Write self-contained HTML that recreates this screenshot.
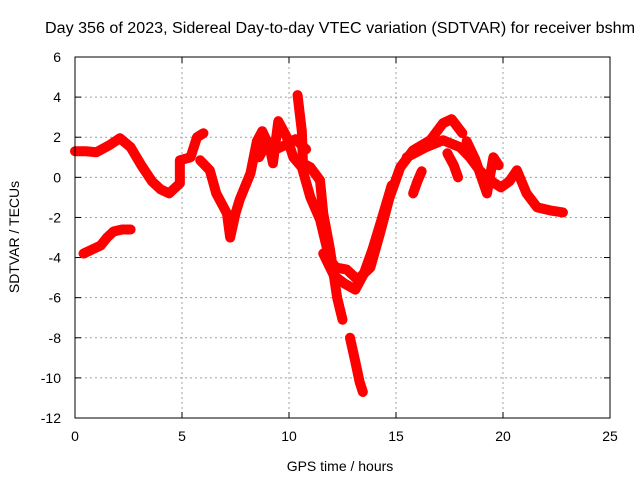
<!DOCTYPE html>
<html><head><meta charset="utf-8"><style>
body{margin:0;background:#fff}
svg{display:block;font-family:"Liberation Sans",sans-serif;font-size:14px}
</style></head><body>
<svg id="chart" width="640" height="480">
<text x="340" y="33" text-anchor="middle" textLength="590" lengthAdjust="spacingAndGlyphs" style="font-size:15.5px">Day 356 of 2023, Sidereal Day-to-day VTEC variation (SDTVAR) for receiver bshm</text>
<text x="340" y="471" text-anchor="middle">GPS time / hours</text>
<text transform="translate(19,237) rotate(-90)" text-anchor="middle">SDTVAR / TECUs</text>
<g id="grid"></g><g id="data"></g><g id="axes"></g>
</svg>
<script>
const xTicks=[0,5,10,15,20,25];
const yTicks=[6,4,2,0,-2,-4,-6,-8,-10,-12];
const mainHours=[0,0.5,1,1.6,2.1,2.6,3.1,3.6,4.0,4.4,4.9,4.9,5.4,5.7,6.0];
const mainValues=[1.3,1.3,1.25,1.6,1.95,1.5,0.6,-0.2,-0.6,-0.8,-0.3,0.85,1.0,2.0,2.2];
const dipHours=[5.85,6.3,6.6,7.1,7.25,7.5,7.7,8.2,8.5,8.75,9.1,9.25,9.5,9.9,10.2,10.6,11.0,11.45,11.9,12.2,12.7,13.2,13.8,14.25,14.7,15.2,15.8,16.6,17.2,17.6,18.1];
const dipValues=[0.85,0.35,-0.8,-1.8,-3.0,-1.8,-1.1,0.2,1.8,2.3,1.5,0.7,2.8,2.0,1.0,0.5,-1.0,-2.1,-4.1,-4.5,-4.6,-5.1,-4.5,-2.8,-1.0,0.5,1.35,1.85,2.7,2.9,2.2];
const lowHours=[15.5,16.4,17.2,18.0,18.45,18.9,19.4,19.9,20.3,20.65,21.1,21.6,22.2,22.8];
const lowValues=[1.0,1.5,1.85,1.5,1.0,0.35,-0.15,-0.5,-0.2,0.35,-0.8,-1.5,-1.65,-1.75];
const branchHours=[10.4,10.6,10.65,11.0,11.45,11.6,11.9,12.25,12.5];
const branchValues=[4.1,2.3,0.7,0.5,-0.15,-1.8,-3.5,-6.0,-7.1];
const fallHours=[12.85,13.1,13.3,13.45];
const fallValues=[-8.0,-9.2,-10.2,-10.7];
const sideHours=[17.4,17.7,17.9];
const sideValues=[1.2,0.6,0.0];
const riseHours=[15.8,16.0,16.2];
const riseValues=[-0.8,-0.2,0.3];
const midHours=[18.3,18.7,19.25,19.55,19.8];
const midValues=[1.8,0.9,-0.8,1.0,0.6];
const preHours=[0.4,0.8,1.2,1.5,1.8,2.2,2.6];
const preValues=[-3.8,-3.6,-3.4,-3.0,-2.7,-2.6,-2.6];
const troughHours=[11.6,12.1,12.6,13.1,13.5,13.9,14.3,14.8];
const troughValues=[-3.8,-4.9,-5.3,-5.6,-4.8,-3.6,-2.2,-0.4];
const humpHours=[8.6,9.0,9.4,9.8,10.3,10.8];
const humpValues=[1.0,1.8,1.4,1.6,1.9,1.4];
const tracks=[[mainHours,mainValues],[dipHours,dipValues],[lowHours,lowValues],[branchHours,branchValues],[fallHours,fallValues],[sideHours,sideValues],[riseHours,riseValues],[midHours,midValues],[preHours,preValues],[troughHours,troughValues],[humpHours,humpValues]];

const L=75,R=610,T=57,B=418,NS="http://www.w3.org/2000/svg";
const X=h=>L+(h-0)/25*(R-L);
const Y=v=>T+(6-v)/18*(B-T);
function mk(t,a,p){const e=document.createElementNS(NS,t);for(const k in a)e.setAttribute(k,a[k]);p.appendChild(e);return e;}
const grid=document.getElementById('grid'),axes=document.getElementById('axes'),data=document.getElementById('data');
xTicks.forEach(t=>{
 const x=X(t);
 if(t>0&&t<25){const g=mk('line',{x1:x,x2:x,y1:T,y2:B,stroke:'#a0a0a0','stroke-dasharray':'2,3'},grid);
 
 }
 mk('line',{x1:x,x2:x,y1:B,y2:B-6,stroke:'#000'},axes);mk('line',{x1:x,x2:x,y1:T,y2:T+6,stroke:'#000'},axes);
 const tx=mk('text',{x:x,y:B+23,'text-anchor':'middle'},axes);tx.textContent=t;
 
 
});
yTicks.forEach(t=>{
 const y=Y(t);
 if(t<6&&t>-12){const g=mk('line',{x1:L,x2:R,y1:y,y2:y,stroke:'#a0a0a0','stroke-dasharray':'2,3'},grid);
 
 }
 mk('line',{x1:L,x2:L+6,y1:y,y2:y,stroke:'#000'},axes);mk('line',{x1:R,x2:R-6,y1:y,y2:y,stroke:'#000'},axes);
 const tx=mk('text',{x:L-14,y:y+5,'text-anchor':'end'},axes);tx.textContent=t;
 
 
});
const frame=mk('rect',{x:L,y:T,width:R-L,height:B-T,fill:'none',stroke:'#000'},axes);


tracks.forEach(([hs,vs])=>{
 const pts=hs.map((h,i)=>X(h)+','+Y(vs[i])).join(' ');
 const pl=mk('polyline',{points:pts,fill:'none',stroke:'#f00','stroke-width':10,'stroke-linejoin':'round','stroke-linecap':'round'},data);
 
 
 hs.forEach((h,i)=>{
  const x=X(h),y=Y(vs[i]);
  const p=mk('path',{d:`M${x-4},${y}h8M${x},${y-4}v8`,stroke:'#f00','stroke-width':1.5},data);
  
  
 });
});
</script>
</body></html>
